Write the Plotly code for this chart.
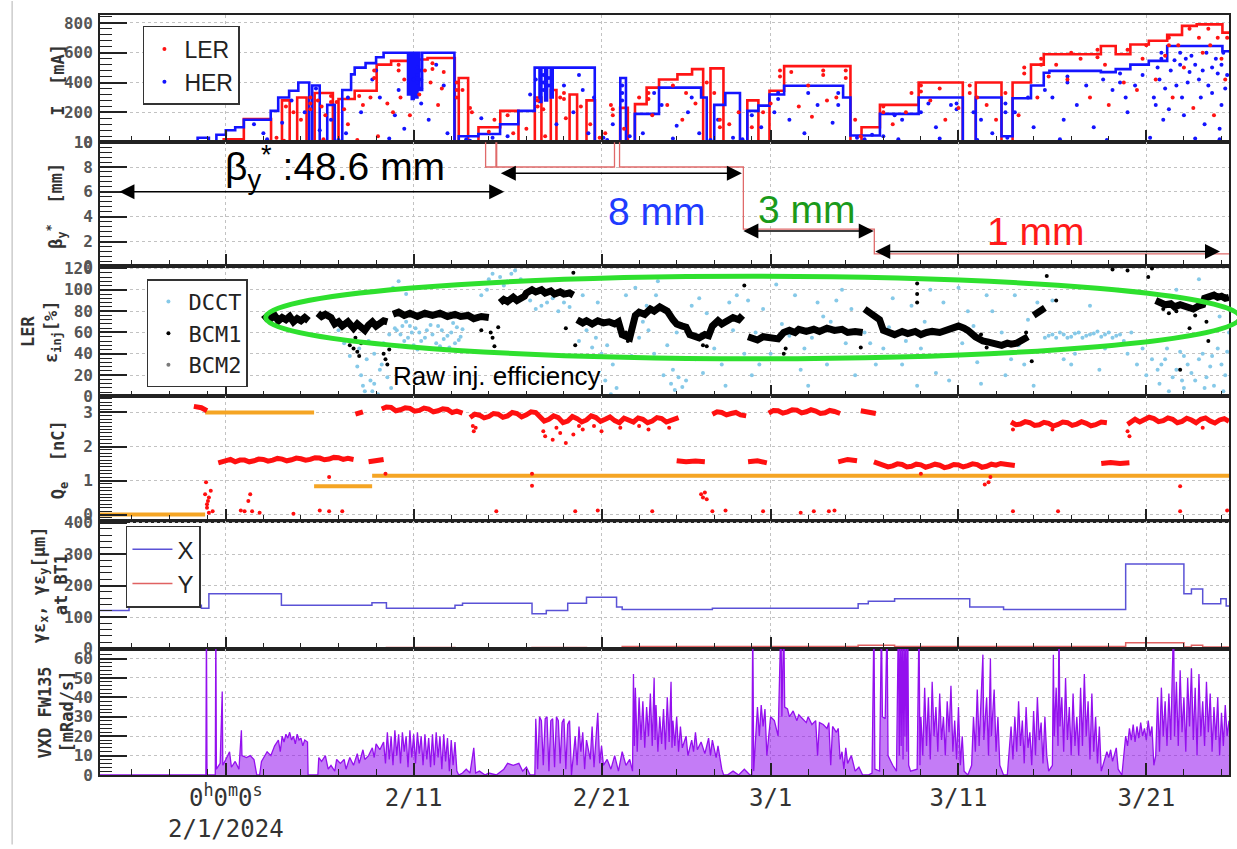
import plotly.graph_objects as go
from plotly.subplots import make_subplots

# ---------------- time axis (days since 2024-02-01 00:00) ----------------
X_RANGE = [-6.696, 53.40]
major_days = [0, 10, 20, 29, 39, 49]
major_labels = ["0<sup>h</sup>0<sup>m</sup>0<sup>s</sup><br>2/1/2024", "2/11", "2/21", "3/1", "3/11", "3/21"]
minor_days = [-5, -3, -1, 2, 4, 6, 8, 12, 14, 16, 18, 22, 24, 26, 28, 31, 33, 35, 37, 41, 43, 45, 47, 51, 53]

# ---------------- panel 1 : beam currents [mA] ----------------
ler_steps = [(-6.7,0),(-0.11,20),(0.96,155),(2.41,0),(2.99,280),(3.4,0),(3.8,300),(4.3,0),(4.73,330),(5.7,0),(6.0,290),
             (6.86,345),(8.03,520),(8.8,545),(9.96,555),(10.74,565),(11.9,565),(12.19,0),(12.4,430),(12.9,0),(13.45,100),
             (14.61,210),(15.58,0),(16.45,300),(16.8,0),(17.3,350),(17.6,0),(18.3,320),(18.7,0),(19.2,280),(19.65,0),
             (20.99,230),(21.4,0),(21.78,255),(22.4,366),(23.06,420),(24.04,455),(24.82,490),(25.41,0),(25.8,495),(26.49,0),
             (27.76,280),(28.35,0),(28.94,345),(29.72,510),(32.86,510),(33.25,0),(33.84,100),(34.82,250),(36.88,400),(39.23,0),
             (39.92,400),(41.29,0),(41.88,400),(42.86,520),(43.54,590),(46.58,645),(47.37,590),(48.15,655),(49.13,680),
             (50.11,720),(50.9,780),(51.68,790),(53.05,735),(53.4,735)]
her_steps = [(-6.7,0),(-1.5,30),(-0.9,0),(-0.5,50),(0.0,80),(0.5,100),(0.96,150),(2.39,210),(2.79,300),(3.37,345),(3.86,400),
             (4.44,0),(4.6,380),(5.0,0),(5.4,250),(5.8,0),(6.2,350),(6.67,455),(6.86,500),(7.44,530),(8.0,570),(8.4,600),
             (9.7,320),(9.8,600),(9.9,290),(10.0,600),(10.1,300),(10.2,600),(10.3,350),(10.45,600),(12.17,0),(12.4,40),
             (13.44,55),(14.6,120),(15.57,210),(16.44,500),(16.7,270),(16.8,500),(17.0,280),(17.1,500),(17.3,300),(17.4,500),
             (19.64,0),(21.0,430),(21.3,0),(21.77,190),(23.06,366),(25.3,300),(25.6,0),(26.0,250),(26.59,330),(27.37,0),
             (27.76,210),(28.35,245),(28.94,320),(29.72,378),(32.86,300),(33.25,45),(34.82,190),(36.88,300),(39.23,0),
             (39.92,300),(41.29,40),(41.88,295),(42.86,380),(43.54,466),(43.84,478),(46.58,470),(47.37,490),(48.15,520),
             (49.13,545),(50.11,645),(53.05,610),(53.4,610)]
ler_pts = [(3.2,240),(3.6,200),(4.0,150),(4.9,280),(5.1,240),(5.3,180),(5.9,270),(6.3,220),(6.5,120),(7.1,310),(7.3,250),
           (7.7,300),(8.6,260),(8.9,200),(9.3,300),(9.8,180),(10.3,320),(10.9,400),(11.3,250),(11.6,470),(12.6,350),(13.0,230),
           (14.0,70),(15.0,180),(16.0,90),(16.9,220),(17.8,300),(18.1,160),(18.9,240),(19.4,120),(20.2,60),(20.5,250),(22.0,300),
           (22.7,180),(23.5,250),(24.3,150),(25.0,260),(26.0,330),(26.8,120),(27.3,200),(28.0,100),(29.0,260),(30.5,240),
           (31.2,170),(32.0,280),(32.5,300),(33.5,150),(35.5,120),(36.2,200),(37.5,280),(38.3,150),(39.0,230),(40.5,250),
           (41.0,150),(42.2,180),(43.2,300),(44.2,520),(44.8,420),(45.5,560),(46.0,300),(47.0,250),(47.8,400),(48.5,350),
           (49.5,420),(50.4,300),(51.0,500),(51.5,230),(52.0,600),(52.6,180),(53.2,420),
           (4.5,300),(4.5,260),(4.5,220),(5.6,310),(5.6,270),(7.9,480),(7.9,430),(9.2,520),(9.2,480),(11.0,530),(11.0,490),
           (12.3,400),(12.3,350),(12.3,300),(13.1,200),(16.6,280),(16.6,240),(18.0,330),(18.0,290),(20.6,220),(20.6,180),
           (22.5,330),(22.5,290),(26.3,150),(26.3,100),(29.5,480),(29.5,440),(31.8,480),(31.8,450),(33.0,480),(33.0,430),
           (35.0,240),(35.0,200),(37.0,380),(37.0,340),(39.6,380),(39.6,330),(42.5,500),(42.5,460),(43.4,560),(43.4,520),
           (46.4,620),(46.4,570),(48.0,620),(49.0,650),(50.2,700),(50.2,650),(51.3,760),(52.3,760),(52.8,700),(53.3,700),
           (2.7,30),(3.1,10),(5.2,20),(7.0,15),(8.1,40),(9.5,420),(10.6,480),(11.5,360),(14.3,150),(15.3,60),(17.0,40),
           (19.9,30),(21.2,90),(23.8,380),(24.5,330),(25.6,400),(28.6,200),(30.1,470),(31.0,380),(33.8,40),(36.5,330),
           (38.0,360),(40.0,300),(41.5,330),(43.8,440),(45.0,600),(46.8,520),(48.8,560),(50.0,580),(50.7,650),(51.8,700),
           (52.4,650),(53.0,560)]
her_pts = [(1.5,120),(2.0,60),(3.0,130),(4.2,200),(5.0,80),(5.6,150),(6.4,60),(7.2,200),(7.8,420),(8.2,300),(9.0,180),
           (9.5,90),(10.0,420),(10.4,260),(10.8,150),(11.2,520),(11.8,60),(12.8,20),(13.6,160),(15.0,40),(16.2,320),(17.6,120),
           (18.0,380),(18.5,200),(19.0,350),(19.3,60),(20.1,30),(20.6,120),(22.2,60),(23.2,250),(24.0,110),(24.6,200),(25.2,60),
           (26.2,150),(27.0,30),(28.5,100),(29.2,200),(30.0,150),(30.8,60),(31.5,250),(32.3,130),(34.0,20),(35.0,40),(36.0,150),
           (37.0,200),(37.8,100),(38.6,250),(40.2,150),(40.8,60),(42.0,200),(43.0,100),(44.0,300),(44.6,150),(45.3,250),
           (46.2,100),(47.2,350),(48.0,200),(48.8,450),(49.4,300),(49.9,150),(50.5,550),(51.2,400),(51.9,300),(52.5,500),
           (53.0,250),(2.2,20),(6.0,15),(8.7,25),(13.0,10),(14.2,30),(20.3,15),(21.5,40),(23.8,25),(25.8,15),(27.5,20),
           (33.6,30),(34.4,50),(35.8,20),(38.0,25),(40.0,15),(41.6,30),(44.4,20),(46.9,15),(49.2,30),(51.6,25),(52.9,20),
           (10.2,500),(10.2,450),(10.2,400),(10.4,480),(10.4,420),(10.4,360),(16.9,450),(16.9,400),(16.9,350),(17.2,430),
           (17.2,380),(21.1,380),(21.1,330),(21.1,280),(29.4,330),(29.4,290),(32.6,330),(32.6,250),(38.9,260),(38.9,220),
           (41.5,260),(41.5,200),(44.8,440),(44.8,400),(47.6,460),(47.6,400),(49.8,600),(49.8,560),(50.8,600),(50.8,520),
           (51.4,580),(52.2,600),(52.7,560),(53.1,600),
           (49.6,500),(49.7,420),(50.0,360),(50.3,480),(50.6,380),(50.9,300),(51.1,560),(51.3,470),(51.6,520),(51.8,420),
           (52.0,480),(52.3,380),(52.5,330),(52.8,460),(53.0,520),(53.2,360),(53.3,450),(50.2,220),(51.0,180),(52.1,120),
           (52.9,90),(49.5,250),(48.4,380),(47.9,300),(46.7,420),(45.8,380),(43.6,350),(42.7,300),(39.8,200),(37.4,260),
           (35.6,180),(31.0,330),(28.0,180),(24.8,300),(22.8,330),(19.6,300),(18.8,450),(16.5,420),(11.6,380),(9.2,350),
           (8.0,480),(6.5,300),(4.8,360),(3.5,280)]

# ---------------- panel 2 : beta_y* [mm] ----------------
beta_steps = [(-6.7,48.6),(13.83,8),(14.38,48.6),(14.42,8),(20.69,48.6),(20.96,8),(27.55,3),(34.52,1),(53.4,1)]

# ---------------- panel 3 : LER injection efficiency [%] ----------------
bcm1_segs = [
    [(2.0,72),(2.2,75),(2.4,73),(2.6,76),(2.8,71),(3.0,74),(3.2,72),(3.4,75),(3.6,70),(3.8,73),(4.0,71),(4.2,74),(4.4,71)],
    [(4.9,78),(5.1,75),(5.3,77),(5.6,74),(5.8,68),(6.0,70),(6.2,66),(6.5,70),(6.8,64),(7.0,68),(7.2,65),(7.4,62),
     (7.6,67),(7.8,70),(8.0,66),(8.2,68),(8.4,71),(8.6,70)],
    [(8.9,77),(9.2,79),(9.5,76),(9.8,78),(10.2,75),(10.6,78),(11.0,76),(11.4,78),(11.8,75),(12.2,77),(12.5,75),
     (12.9,76),(13.2,73),(13.6,75),(14.0,74)],
    [(14.6,88),(14.8,91),(15.0,89),(15.3,93),(15.5,90),(15.9,94),(16.0,97),(16.3,100),(16.5,98),(16.8,100),(17.0,97),
     (17.3,99),(17.5,96),(17.8,98),(18.0,96),(18.3,97),(18.5,95)],
    [(18.7,72),(19.0,69),(19.2,71),(19.5,68),(19.8,71),(20.1,69),(20.4,70),(20.7,68),(20.9,70),(21.1,58),(21.5,55),
     (21.8,76),(22.0,79),(22.3,77),(22.6,82),(22.8,80),(23.1,84),(23.3,81),(23.5,80),(23.8,72),(24.0,68),(24.3,66),
     (24.5,65),(24.7,58),(25.0,56),(25.2,55),(25.5,58),(25.7,57),(25.9,66),(26.2,71),(26.4,68),(26.7,72),(27.0,74),
     (27.3,72),(27.5,76)],
    [(27.8,56),(28.1,54),(28.3,53),(28.6,56),(28.9,55),(29.2,53),(29.4,54),(29.7,60),(30.0,62),(30.3,60),(30.5,63),
     (30.9,61),(31.3,63),(31.6,61),(32.0,64),(32.4,62),(32.8,63),(33.1,60),(33.5,61),(33.9,60)],
    [(34.0,82),(34.2,79),(34.4,78),(34.6,75),(34.8,72),(35.0,62),(35.3,60),(35.6,58),(36.0,61),(36.3,59),(36.7,61),
     (37.0,58),(37.3,60),(37.6,61),(38.0,60),(38.3,62),(38.7,64),(39.0,66),(39.3,64),(39.5,62),(39.9,56),(40.1,54),
     (40.3,52),(40.6,51),(40.8,50),(41.0,49),(41.3,48),(41.6,50),(41.8,49),(42.1,50),(42.3,52),(42.5,55),(42.7,56)],
    [(43.0,76),(43.3,80),(43.6,83)],
    [(49.5,90),(49.8,88),(50.0,86),(50.3,87),(50.5,84),(50.8,86),(51.0,85),(51.2,83),(51.5,82),(51.8,85),(52.0,86),
     (52.1,92),(52.4,93),(52.6,95),(52.8,93),(53.0,94),(53.2,92),(53.4,93)],
]
bcm1_pts = [(6.8,45),(7.0,42),(7.2,50),(8.5,35),(8.6,30),(14.2,55),(14.3,47),(13.6,62),(18.6,48),(18.5,116),(21.4,52),
            (14.5,65),(18.1,64),(25.4,48),(25.6,47),(27.6,104),(36.8,106),(36.8,96),(36.8,88),(43.7,113),(44.2,90),
            (42.9,33),(29.7,40),(33.8,46),(47.2,119),(48.0,118),(49.3,120),(49.1,112),(50.8,25),(51.3,64),(52.3,52),
            (6.6,48),(6.9,55),(7.1,38),(8.4,40),(8.7,44),(14.1,60),(21.3,60),(29.8,45),(40.2,58),(40.5,46),(42.6,60),
            (50.2,78),(50.6,80),(51.6,76),(52.2,70),(49.9,82)]
bcm2_pts = [(3.0,73),(11.0,77),(31.0,62)]
dcct_pts = [(9.0,64),(9.3,58),(9.5,52),(9.8,66),(10.0,48),(10.3,60),(10.6,55),(10.9,67),(11.2,50),(11.5,62),(11.8,57),
            (12.1,69),(12.4,53),(12.6,63),(9.6,70),(10.8,45),(11.9,46),(7.0,28),(7.2,20),(7.5,35),(7.7,15),(7.9,40),(8.2,25),
            (8.4,50),(8.7,58),(7.3,10),(7.8,5),(6.0,62),(6.3,50),(6.6,38),(8.9,102),(9.2,108),(9.6,96),(14.2,115),(14.6,112),
            (15.4,118),(15.0,108),(13.9,100),(16.2,90),(16.8,85),(17.4,92),(18.0,88),(18.8,52),(19.5,46),(20.0,40),(19.0,95),
            (19.8,88),(20.6,30),(20.2,15),(20.8,8),(20.5,2),(21.3,95),(21.8,102),(22.2,70),(22.5,62),(23.0,108),(22.8,40),
            (23.3,20),(23.7,12),(23.9,6),(24.1,18),(24.3,9),(24.5,15),(23.8,25),(24.8,85),(25.2,92),(25.6,78),(26.0,45),
            (26.4,30),(26.8,88),(27.2,95),(27.6,40),(25.0,35),(27.8,90),(28.2,60),(28.6,82),(29.0,40),(29.3,105),(28.0,20),
            (30.0,57),(30.8,45),(31.5,88),(32.0,30),(32.5,90),(33.0,50),(33.5,20),(31.0,10),(30.3,95),(32.8,100),(34.3,50),
            (35.0,45),(35.5,92),(36.0,30),(36.5,85),(37.0,45),(37.5,100),(38.0,60),(38.5,15),(36.8,10),(39.0,102),(39.5,80),
            (40.0,32),(40.5,95),(41.0,40),(41.5,20),(42.0,95),(42.5,30),(43.0,10),(40.2,12),(42.2,48),(43.8,57),(44.2,55),
            (44.6,58),(45.0,56),(45.4,60),(45.8,57),(46.2,59),(46.6,56),(47.0,60),(47.4,57),(47.8,52),(44.0,90),(45.0,30),
            (46.0,85),(46.5,25),(47.5,100),(48.0,40),(48.5,30),(49.0,20),(48.8,45),(49.3,35),(48.2,60),(49.6,25),(50.0,35),
            (50.4,18),(50.8,42),(51.2,30),(51.6,15),(52.0,40),(52.4,28),(52.8,45),(53.2,20),(50.2,5),(51.0,8),(52.6,10),
            (53.4,60),(52.9,75),(50.6,100),(51.8,110),
            (9.1,62),(9.4,66),(9.7,55),(9.9,60),(10.1,64),(10.4,52),(10.7,62),(11.0,58),(11.3,66),(11.6,54),(12.0,60),
            (12.3,65),(12.5,56),(9.2,47),(10.2,44),(11.4,47),(12.2,50),(7.4,5),(7.6,0),(7.9,12),(8.1,2),(8.3,30),(8.6,18),
            (8.8,8),(7.1,45),(7.6,52),(14.0,110),(14.8,104),(15.2,115),(15.7,110),(13.6,95),(16.5,82),(17.1,88),(17.7,80),
            (18.3,84),(19.2,62),(19.7,55),(20.3,48),(21.0,60),(21.6,38),(22.0,55),(22.4,85),(22.9,95),(43.6,55),(44.0,58),
            (44.4,60),(44.8,55),(45.2,59),(45.6,55),(46.0,58),(46.4,61),(46.8,58),(47.2,55),(47.6,58),(45.2,40),(46.8,45),
            (44.6,35),(49.8,30),(50.1,45),(50.6,25),(51.0,38),(51.4,22),(51.8,35),(52.2,18),(52.5,38),(53.0,30),(53.3,42),
            (49.7,12),(50.9,15),(52.1,8),(53.1,5),(25.4,22),(26.6,10),(27.0,62),(28.4,30),(31.2,55),(31.8,75),(33.3,82),
            (34.0,60),(34.6,30),(35.3,65),(36.2,52),(37.2,70),(37.8,22),(38.2,88),(39.2,50),(39.8,66),(40.8,80),(41.3,60),
            (41.8,35),(42.7,72),(43.2,88),(30.6,25),(32.2,70),(29.6,68),(24.0,60),(23.5,48)]

# ---------------- panel 4 : charge Qe [nC] ----------------
qe_set_segs = [[(-6.7,0),(-1.1,0)], [(-1.1,3.0),(4.7,3.0)], [(4.7,0.83),(7.79,0.83)], [(7.79,1.14),(53.4,1.14)]]
qe_segs = [
    [(-1.7,3.18),(-1.3,3.14),(-1.0,3.05)],
    [(-0.4,1.52),(0.0,1.58),(0.25,1.62),(0.5,1.55),(0.75,1.6),(1.0,1.6),(1.25,1.55),(1.5,1.58),(1.75,1.63),(2.0,1.62),
     (2.25,1.57),(2.5,1.6),(2.75,1.65),(3.0,1.63),(3.25,1.58),(3.5,1.61),(3.75,1.66),(4.0,1.64),(4.25,1.6),(4.5,1.62),
     (4.75,1.67),(5.0,1.66),(5.25,1.61),(5.5,1.63),(5.75,1.68),(6.0,1.67),(6.25,1.62),(6.5,1.65),(6.8,1.62)],
    [(7.6,1.55),(8.0,1.58),(8.4,1.62)],
    [(6.9,2.95),(7.3,3.02)],
    [(8.3,3.1),(8.55,3.16),(8.8,3.15),(9.05,3.05),(9.3,3.08),(9.55,3.14),(9.8,3.12),(10.05,3.04),(10.3,3.06),
     (10.55,3.13),(10.8,3.1),(11.05,3.02),(11.3,3.05),(11.55,3.11),(11.8,3.09),(12.05,3.0),(12.3,3.04),(12.6,2.98)],
    [(13.0,2.85),(13.25,2.95),(13.5,2.92),(13.75,2.84),(14.0,2.88),(14.25,2.97),(14.5,2.95),(14.75,2.86),(15.0,2.9),
     (15.25,3.0),(15.5,2.97),(15.75,2.87),(16.0,2.93),(16.25,3.02),(16.5,3.0),(16.7,2.9),(16.95,2.75),(17.2,2.8),
     (17.45,2.9),(17.7,2.85),(17.95,2.7),(18.2,2.75),(18.45,2.88),(18.7,2.82),(18.95,2.72),(19.2,2.78),(19.45,2.9),
     (19.7,2.85),(19.95,2.74),(20.2,2.8),(20.45,2.87),(20.7,2.76),(20.95,2.7),(21.2,2.83),(21.45,2.78),(21.7,2.72),
     (21.95,2.84),(22.2,2.8),(22.45,2.7),(22.7,2.75),(22.95,2.85),(23.2,2.82),(23.45,2.72),(23.7,2.78),(24.1,2.85)],
    [(24.0,1.58),(24.5,1.55),(25.0,1.57),(25.5,1.55)],
    [(25.9,2.95),(26.15,3.02),(26.4,3.0),(26.65,2.93),(26.9,2.97),(27.15,3.0),(27.4,2.93),(27.7,2.9)],
    [(27.8,1.55),(28.3,1.58),(28.8,1.52)],
    [(28.9,2.98),(29.15,3.06),(29.4,3.05),(29.65,2.98),(29.9,3.02),(30.15,3.08),(30.4,3.07),(30.65,2.99),(30.9,3.02),
     (31.15,3.08),(31.4,3.04),(31.65,2.97),(31.9,2.99),(32.15,3.06),(32.4,3.03),(32.7,2.97)],
    [(32.6,1.55),(33.1,1.62),(33.6,1.58)],
    [(33.8,3.05),(34.2,3.0),(34.6,2.97)],
    [(34.5,1.55),(34.75,1.5),(35.0,1.45),(35.25,1.4),(35.5,1.43),(35.75,1.49),(36.0,1.47),(36.25,1.4),(36.5,1.42),
     (36.75,1.48),(37.0,1.46),(37.25,1.39),(37.5,1.43),(37.75,1.48),(38.0,1.45),(38.25,1.38),(38.5,1.41),(38.75,1.47),
     (39.0,1.46),(39.25,1.4),(39.5,1.44),(39.75,1.49),(40.0,1.47),(40.25,1.39),(40.5,1.42),(40.75,1.48),(41.0,1.45),
     (41.25,1.5),(41.5,1.48),(42.0,1.44)],
    [(41.8,2.72),(42.05,2.64),(42.3,2.66),(42.55,2.73),(42.8,2.7),(43.05,2.62),(43.3,2.64),(43.55,2.71),(43.8,2.68),
     (44.05,2.6),(44.3,2.65),(44.55,2.72),(44.8,2.7),(45.05,2.62),(45.3,2.66),(45.55,2.73),(45.8,2.68),(46.05,2.61),
     (46.3,2.64),(46.6,2.72),(46.9,2.7)],
    [(46.6,1.5),(47.1,1.53),(47.6,1.5),(48.1,1.52)],
    [(48.0,2.65),(48.2,2.74),(48.4,2.8),(48.65,2.72),(48.9,2.78),(49.15,2.86),(49.4,2.82),(49.65,2.73),(49.9,2.76),
     (50.15,2.84),(50.4,2.8),(50.65,2.7),(50.9,2.74),(51.15,2.83),(51.4,2.78),(51.65,2.7),(51.9,2.8),(52.15,2.84),
     (52.4,2.75),(52.65,2.69),(52.9,2.78),(53.15,2.82),(53.4,2.74)],
]
qe_pts = [(13.2,2.45),(13.3,2.55),(17.0,2.3),(17.4,2.2),(17.8,2.4),(18.1,2.1),(18.5,2.35),(19.0,2.5),(20.0,2.45),
          (21.0,2.55),(22.5,2.5),(23.6,2.55),(37.0,1.2),(40.7,1.1),(40.6,0.95),(40.4,0.88),(41.9,2.5),(44.0,2.5),
          (48.0,2.45),(48.1,2.3),(52.0,2.55),(-1.0,0.3),(-0.9,0.5),(-0.8,0.7),(-1.0,0.2),(-0.7,0.1),(-0.9,0.05),
          (-1.05,0.95),(1.2,0.4),(1.3,0.6),(1.4,0.1),(1.8,0.05),(0.8,0.12),(1.0,0.1),(3.6,0.02),(5.0,0.12),(5.5,0.1),
          (5.5,1.1),(6.2,0.1),(8.5,1.2),(16.3,0.85),(16.3,1.2),(14.4,0.1),(18.6,0.1),(19.8,0.12),(22.7,0.1),(25.3,0.6),
          (25.4,0.5),(25.6,0.45),(25.5,0.65),(25.9,0.1),(26.6,0.12),(28.6,0.1),(30.6,0.05),(31.3,0.1),(32.1,0.1),
          (32.4,0.12),(41.9,0.1),(44.3,0.1),(50.8,0.83),(50.8,0.1),(53.3,0.12),(13.15,2.6),(17.6,2.55),(19.6,2.6),
          (22.0,2.6),(16.9,2.45),(18.8,2.6),(-1.1,0.6),(-0.95,0.4)]

# ---------------- panel 5 : emittance at BT1 [um] ----------------
ex_steps = [(-6.7,121),(-5.15,145),(-2.83,132),(-2.06,137),(-1.3,128),(-0.9,174),(2.96,137),(7.78,145),(8.55,128),
            (12.2,137),(12.6,144),(16.3,110),(17.06,121),(18.2,144),(19.2,163),(20.8,132),(21.1,124),(25.9,128),
            (33.66,142),(34.2,150),(35.6,158),(39.6,132),(41.4,124),(47.9,268),(51.0,174),(51.4,189),(52.0,142),
            (52.96,158),(53.25,135),(53.4,135)]
ey_steps = [(-6.7,1),(8.55,3),(12.2,1),(16.3,3),(19.2,1),(21.1,6),(33.66,10),(35.6,6),(47.9,18),(51.0,5),(51.4,10),
            (52.0,5),(53.4,5)]

# ---------------- panel 6 : VXD dose rate [mRad/s] ----------------
vxd_pts = [(-6.7,0),(-1.06,0),(-1.03,80),(-1.0,0),(-0.56,0),(-0.53,80),(-0.5,3),(-0.3,6),(-0.19,43),(-0.16,5),(0.0,8),
           (0.2,12),(0.3,4),(0.5,7),(0.7,3),(0.83,23),(0.86,10),(1.1,9),(1.3,10),(1.5,8),(1.65,0),(1.8,0),(1.9,7),(2.2,12),
           (2.4,10),(2.6,15),(2.8,18),(2.9,12),(3.0,20),(3.1,17),(3.2,21),(3.3,19),(3.4,22),(3.5,18),(3.6,20),(3.7,16),
           (3.8,21),(3.9,18),(4.0,19),(4.1,15),(4.2,18),(4.35,17),(4.38,0),(4.9,0),(4.95,9),(5.1,7),(5.3,10),(5.45,3),
           (5.6,5),(5.8,2),(5.9,8),(6.1,6),(6.3,8),(6.4,3),(6.6,9),(6.8,5),(7.0,11),(7.1,6),(7.3,13),(7.4,8),(7.6,10),
           (7.8,14),(7.9,9),(8.0,16),(8.2,13),(8.4,17),(8.5,6),(8.6,22),(8.7,8),(8.8,20),(8.9,5),(9.0,23),(9.1,10),(9.2,21),
           (9.3,6),(9.4,22),(9.5,12),(9.6,20),(9.7,4),(9.8,23),(9.9,9),(10.0,21),(10.1,6),(10.2,22),(10.3,11),(10.4,20),
           (10.5,5),(10.6,21),(10.7,8),(10.8,19),(10.9,4),(11.0,21),(11.1,5),(11.2,22),(11.3,9),(11.4,20),(11.5,3),(11.6,21),
           (11.7,7),(11.8,19),(11.9,2),(12.0,18),(12.1,5),(12.2,17),(12.3,2),(12.4,0),(12.6,1),(12.8,3),(13.0,1),(13.2,14),
           (13.3,1),(13.5,2),(13.8,0),(14.0,1),(14.4,0),(14.8,3),(15.0,6),(15.3,5),(15.6,6),(15.8,2),(16.0,4),(16.2,0),
           (16.45,0),(16.5,29),(16.6,3),(16.7,30),(16.8,28),(16.9,5),(17.0,29),(17.1,30),(17.2,2),(17.3,28),(17.4,29),
           (17.5,4),(17.6,30),(17.7,28),(17.8,6),(17.9,27),(18.0,29),(18.1,3),(18.2,26),(18.3,28),(18.4,0),(18.5,10),
           (18.6,20),(18.7,5),(18.8,25),(18.9,12),(19.0,22),(19.1,3),(19.2,18),(19.4,8),(19.5,25),(19.6,4),(19.8,32),
           (19.9,6),(20.0,15),(20.1,5),(20.3,8),(20.5,3),(20.7,10),(20.9,2),(21.1,12),(21.3,5),(21.5,8),(21.65,2),(21.7,52),
           (21.75,15),(21.8,45),(21.9,12),(22.0,40),(22.1,18),(22.2,38),(22.3,14),(22.4,35),(22.5,20),(22.6,42),(22.7,15),
           (22.8,50),(22.85,18),(22.9,36),(23.0,12),(23.1,30),(23.2,16),(23.3,34),(23.4,13),(23.5,40),(23.6,17),(23.7,48),
           (23.75,14),(23.8,28),(23.9,15),(24.0,30),(24.1,12),(24.2,25),(24.3,14),(24.5,20),(24.6,10),(24.8,18),(24.9,12),
           (25.0,22),(25.1,13),(25.3,17),(25.5,11),(25.7,19),(25.8,10),(25.9,18),(26.1,9),(26.2,15),(26.4,3),(26.5,0),
           (26.7,0),(27.0,2),(27.3,0),(27.6,3),(27.9,0),(28.0,0),(28.05,80),(28.1,2),(28.3,35),(28.4,20),(28.5,36),(28.6,25),
           (28.7,34),(28.8,10),(29.0,30),(29.2,28),(29.4,20),(29.55,80),(29.6,30),(29.7,80),(29.75,35),(29.9,34),(30.0,30),
           (30.2,33),(30.4,28),(30.5,31),(30.7,29),(30.9,27),(31.0,30),(31.2,26),(31.4,28),(31.5,10),(31.6,27),(31.8,26),
           (32.0,24),(32.1,27),(32.2,5),(32.3,25),(32.5,22),(32.6,24),(32.7,8),(32.8,12),(32.9,3),(33.0,14),(33.1,6),
           (33.3,10),(33.5,2),(33.7,4),(33.9,0),(34.2,0),(34.4,1),(34.5,80),(34.55,3),(34.8,2),(34.9,80),(34.95,30),
           (35.1,29),(35.2,80),(35.25,10),(35.5,5),(35.7,2),(35.8,80),(35.85,10),(35.9,80),(35.95,15),(36.0,80),(36.05,8),
           (36.1,80),(36.15,20),(36.2,80),(36.25,12),(36.3,80),(36.35,5),(36.45,2),(36.8,3),(36.9,80),(36.95,5),(37.0,30),
           (37.1,10),(37.2,45),(37.3,15),(37.4,40),(37.5,8),(37.6,48),(37.7,20),(37.8,35),(37.9,12),(38.0,42),(38.1,18),
           (38.2,30),(38.3,10),(38.4,38),(38.5,22),(38.6,46),(38.7,12),(38.8,28),(38.9,8),(39.0,35),(39.1,5),(39.2,20),
           (39.3,2),(39.5,0),(39.7,5),(39.8,30),(39.9,12),(40.0,44),(40.1,15),(40.2,35),(40.3,62),(40.35,18),(40.5,40),
           (40.6,10),(40.7,60),(40.75,20),(40.9,44),(41.0,12),(41.1,30),(41.2,5),(41.4,0),(41.6,0),(41.8,25),(41.9,8),
           (42.0,30),(42.1,12),(42.2,38),(42.3,15),(42.4,28),(42.5,6),(42.6,35),(42.7,14),(42.8,22),(42.9,5),(43.0,33),
           (43.1,10),(43.2,40),(43.3,18),(43.4,27),(43.5,6),(43.6,30),(43.7,10),(43.8,2),(44.0,5),(44.05,62),(44.1,20),
           (44.2,45),(44.3,15),(44.35,80),(44.4,25),(44.5,40),(44.6,12),(44.7,50),(44.8,18),(44.9,35),(45.0,10),(45.1,42),
           (45.2,15),(45.3,30),(45.4,10),(45.5,45),(45.6,15),(45.7,52),(45.8,20),(45.9,38),(46.0,8),(46.1,42),(46.2,12),
           (46.3,30),(46.4,6),(46.5,25),(46.6,2),(46.8,8),(46.9,12),(47.0,9),(47.1,13),(47.2,7),(47.3,11),(47.4,14),
           (47.5,3),(47.7,0),(47.9,20),(48.0,15),(48.1,24),(48.2,18),(48.3,26),(48.4,17),(48.5,25),(48.6,19),(48.7,27),
           (48.8,20),(48.9,24),(49.0,18),(49.1,28),(49.2,20),(49.3,25),(49.4,5),(49.5,10),(49.6,40),(49.7,12),(49.8,45),
           (49.9,20),(50.0,38),(50.1,15),(50.2,42),(50.3,18),(50.45,80),(50.5,20),(50.6,48),(50.7,15),(50.8,54),(50.9,22),
           (51.0,40),(51.1,12),(51.2,50),(51.3,25),(51.4,55),(51.5,18),(51.6,45),(51.7,10),(51.8,52),(51.9,20),(52.0,38),
           (52.1,15),(52.2,48),(52.3,22),(52.4,42),(52.5,12),(52.6,35),(52.7,18),(52.8,40),(52.9,10),(53.0,32),(53.1,15),
           (53.2,36),(53.3,20),(53.4,28)]


# ---------------- helpers ----------------
def unzip(pairs):
    return [p[0] for p in pairs], [p[1] for p in pairs]


def seg_xy(segs):
    xs, ys = [], []
    for s in segs:
        for t, v in s:
            xs.append(t)
            ys.append(v)
        xs.append(None)
        ys.append(None)
    return xs, ys


# pixel layout of the panels
TOP, BOT = 14, 779
bounds = [14, 142, 267, 398, 523, 652, 779]


def py(p):
    return (BOT - p) / (BOT - TOP)


def px(p):
    return (p - 100) / 1131.0


fig = make_subplots(rows=6, cols=1, shared_xaxes=True, vertical_spacing=0.0)

# ---- panel 1
x, y = unzip(ler_steps)
fig.add_trace(go.Scatter(x=x, y=y, mode='lines', line=dict(color='#ff1414', width=2.6, shape='hv'), showlegend=False), 1, 1)
x, y = unzip(her_steps)
fig.add_trace(go.Scatter(x=x, y=y, mode='lines', line=dict(color='#1414ff', width=2.6, shape='hv'), showlegend=False), 1, 1)
x, y = unzip(her_pts)
fig.add_trace(go.Scatter(x=x, y=y, mode='markers', marker=dict(color='#1414ff', size=4), name='HER', legend='legend',
                         legendrank=2), 1, 1)
x, y = unzip(ler_pts)
fig.add_trace(go.Scatter(x=x, y=y, mode='markers', marker=dict(color='#ff1414', size=4), name='LER', legend='legend',
                         legendrank=1), 1, 1)

# ---- panel 2
x, y = unzip(beta_steps)
fig.add_trace(go.Scatter(x=x, y=y, mode='lines', line=dict(color='#e06a6a', width=1.3, shape='hv'), showlegend=False), 2, 1)

# ---- panel 3
x, y = unzip(dcct_pts)
fig.add_trace(go.Scatter(x=x, y=y, mode='markers', marker=dict(color='#86c9e8', size=4), name='DCCT', legend='legend2',
                         legendrank=1), 3, 1)
x, y = unzip(bcm2_pts)
fig.add_trace(go.Scatter(x=x, y=y, mode='markers', marker=dict(color='#7a7a7a', size=4), name='BCM2', legend='legend2',
                         legendrank=3), 3, 1)
x, y = seg_xy(bcm1_segs)
fig.add_trace(go.Scatter(x=x, y=y, mode='lines', line=dict(color='black', width=7), showlegend=False), 3, 1)
x, y = unzip(bcm1_pts)
fig.add_trace(go.Scatter(x=x, y=y, mode='markers', marker=dict(color='black', size=4), name='BCM1', legend='legend2',
                         legendrank=2), 3, 1)

# ---- panel 4
x, y = seg_xy(qe_set_segs)
fig.add_trace(go.Scatter(x=x, y=y, mode='lines', line=dict(color='#f5a524', width=4), showlegend=False), 4, 1)
x, y = seg_xy(qe_segs)
fig.add_trace(go.Scatter(x=x, y=y, mode='lines', line=dict(color='#ff1010', width=5), showlegend=False), 4, 1)
x, y = unzip(qe_pts)
fig.add_trace(go.Scatter(x=x, y=y, mode='markers', marker=dict(color='#ff1010', size=4), showlegend=False), 4, 1)

# ---- panel 5
x, y = unzip(ex_steps)
fig.add_trace(go.Scatter(x=x, y=y, mode='lines', line=dict(color='#5a52d6', width=1.5, shape='hv'), name='X',
                         legend='legend3'), 5, 1)
x, y = unzip(ey_steps)
fig.add_trace(go.Scatter(x=x, y=y, mode='lines', line=dict(color='#e06262', width=1.5, shape='hv'), name='Y',
                         legend='legend3'), 5, 1)

# ---- panel 6
x, y = unzip(vxd_pts)
fig.add_trace(go.Scatter(x=x, y=y, mode='lines', line=dict(color='#9410ee', width=1.3), fill='tozeroy',
                         fillcolor='rgba(148,16,238,0.55)', showlegend=False), 6, 1)

# ---------------- axes ----------------
tickfont = dict(family='DejaVu Sans Mono', size=16, color='#555555', weight='bold')
y_cfg = [
    dict(range=[0, 853], tickvals=[0, 200, 400, 600, 800], minor_d=40),
    dict(range=[0, 10], tickvals=[0, 2, 4, 6, 8, 10], minor_d=0.4),
    dict(range=[0, 122], tickvals=[0, 20, 40, 60, 80, 100, 120], minor_d=4),
    dict(range=[-0.18, 3.47], tickvals=[0, 1, 2, 3], minor_d=0.1),
    dict(range=[-1, 406], tickvals=[0, 100, 200, 300, 400], minor_d=20),
    dict(range=[0, 65], tickvals=[0, 10, 20, 30, 40, 50, 60], minor_d=2),
]
lay = {}
for i in range(6):
    c = y_cfg[i]
    yname = 'yaxis' if i == 0 else 'yaxis%d' % (i + 1)
    xname = 'xaxis' if i == 0 else 'xaxis%d' % (i + 1)
    lay[yname] = dict(domain=[py(bounds[i + 1]), py(bounds[i])], range=c['range'], tickmode='array',
                      tickvals=c['tickvals'], ticktext=[str(v) for v in c['tickvals']], ticks='inside', ticklen=27,
                      tickwidth=1.5, tickcolor='#222', showline=True, mirror=True, linecolor='#222', linewidth=1.8,
                      showgrid=True, gridcolor='#c2c2c2', griddash='dot', gridwidth=1, zeroline=False,
                      tickfont=tickfont, ticklabelstandoff=2,
                      minor=dict(dtick=c['minor_d'], tick0=0, ticks='inside', ticklen=12, tickwidth=1.2,
                                 tickcolor='#222', showgrid=False))
    lay[xname] = dict(range=X_RANGE, tickmode='array', tickvals=major_days, ticktext=major_labels,
                      showticklabels=(i == 5), ticks='inside', ticklen=12, tickwidth=1.8, tickcolor='#222',
                      showline=True, mirror=True, linecolor='#222', linewidth=1.8, showgrid=True,
                      gridcolor='#c2c2c2', griddash='dot', gridwidth=1, zeroline=False,
                      tickfont=dict(family='DejaVu Sans Mono', size=24, color='#333333'),
                      minor=dict(tickmode='array', tickvals=minor_days, ticks='inside', ticklen=6, tickwidth=1.2,
                                 tickcolor='#222', showgrid=False))
    if i > 0:
        lay[xname]['matches'] = 'x'
    lay[xname]['anchor'] = 'y' if i == 0 else 'y%d' % (i + 1)

fig.update_layout(**lay)

narrow = 'Liberation Sans Narrow, Liberation Sans, Arial'
fig.update_layout(
    width=1237, height=849, margin=dict(l=100, r=6, t=14, b=70),
    paper_bgcolor='white', plot_bgcolor='white', hovermode=False,
    legend=dict(x=px(143), y=py(25), xanchor='left', yanchor='top', bgcolor='white', bordercolor='#333',
                borderwidth=1.5, font=dict(family=narrow, size=23, color='#222'), tracegroupgap=0,
                itemwidth=30),
    legend2=dict(x=px(147), y=py(280), xanchor='left', yanchor='top', bgcolor='white', bordercolor='#333',
                 borderwidth=1.5, font=dict(family='DejaVu Sans Mono', size=22, color='#222'), itemwidth=30),
    legend3=dict(x=px(126), y=py(528), xanchor='left', yanchor='top', bgcolor='white', bordercolor='#333',
                 borderwidth=1.5, font=dict(family=narrow, size=24, color='#222'), itemwidth=40),
)

# ---------------- y-axis titles ----------------
title_font = dict(family='DejaVu Sans Mono', size=17, color='#333333')
titles = [
    ("<b>I  [mA]</b>", 57, 79),
    ("<b>β<sub>y</sub><sup>*</sup>  [mm]</b>", 57, 206),
    ("<b>LER</b>", 28, 333),
    ("<b>ε<sub>inj</sub>[%]</b>", 53, 333),
    ("<b>Q<sub>e</sub>  [nC]</b>", 59, 462),
    ("<b>γε<sub>x</sub>, γε<sub>y</sub>[μm]</b>", 40, 588),
    ("<b>at BT1</b>", 61, 588),
    ("<b>VXD FW135</b>", 45, 716),
    ("<b>[mRad/s]</b>", 67, 715),
]
for txt, xx, yy in titles:
    fig.add_annotation(text=txt, xref='paper', yref='paper', x=px(xx), y=py(yy), xanchor='center', yanchor='middle',
                       textangle=-90, showarrow=False, font=title_font)

# ---------------- beta* annotations ----------------
arrows = [(-5.74, 14.82, 6.0), (14.56, 27.47, 7.5), (27.47, 34.49, 2.85), (34.49, 52.92, 1.2)]
for a0, a1, yv in arrows:
    fig.add_annotation(x=a1, y=yv, ax=a0, ay=yv, xref='x2', yref='y2', axref='x2', ayref='y2', text='',
                       showarrow=True, arrowhead=2, arrowside='end+start', arrowsize=2, arrowwidth=1.5,
                       arrowcolor='black', standoff=0, startstandoff=0)
big = 'Liberation Sans, Arial'
fig.add_annotation(x=5.79, y=8.0, xref='x2', yref='y2', text="β<sub>y</sub><sup>*</sup> :48.6 mm", showarrow=False,
                   font=dict(family=big, size=39, color='black'))
fig.add_annotation(x=22.95, y=4.4, xref='x2', yref='y2', text="8 mm", showarrow=False,
                   font=dict(family=big, size=39, color='#1f3cff'))
fig.add_annotation(x=30.92, y=4.56, xref='x2', yref='y2', text="3 mm", showarrow=False,
                   font=dict(family=big, size=39, color='#1a9a1a'))
fig.add_annotation(x=43.15, y=2.8, xref='x2', yref='y2', text="1 mm", showarrow=False,
                   font=dict(family=big, size=39, color='#ff1a1a'))

# ---------------- efficiency panel annotations ----------------
fig.add_annotation(xref='paper', yref='paper', x=px(392), y=py(377), text="Raw inj. efficiency", showarrow=False,
                   font=dict(family=big, size=26, color='black'))
fig.add_shape(type='circle', xref='paper', yref='paper', x0=px(266), x1=px(1242), y0=py(360), y1=py(277),
              line=dict(color='#2ee02e', width=5))

# slide border line at the far left
fig.add_shape(type='line', xref='paper', yref='paper', x0=px(12), x1=px(12), y0=py(849), y1=py(0),
              line=dict(color='#cccccc', width=1.5))

fig.write_html("out.html")
